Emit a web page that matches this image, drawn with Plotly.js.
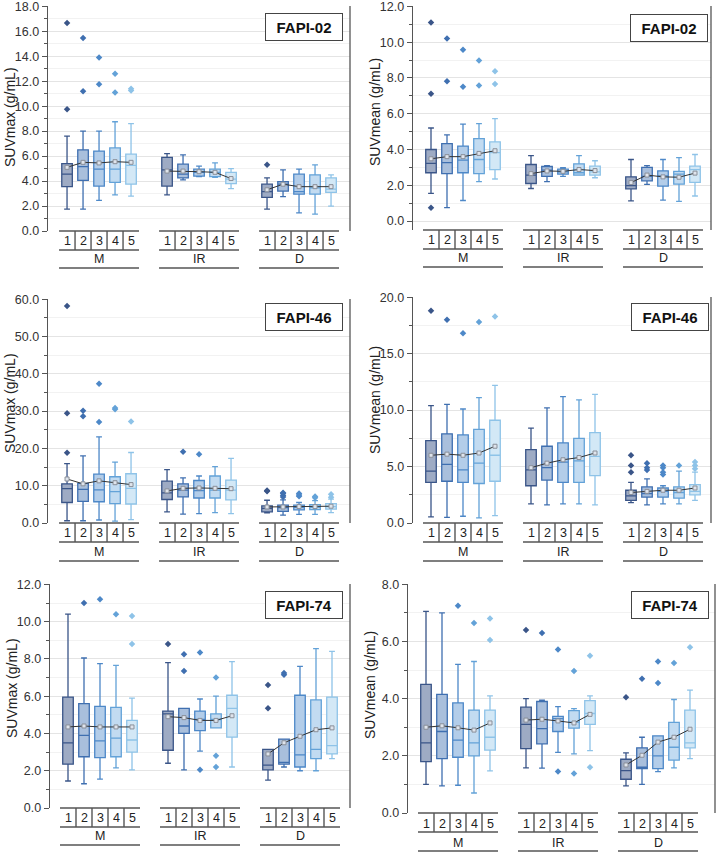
<!DOCTYPE html>
<html>
<head>
<meta charset="utf-8">
<script src="https://cdn.plot.ly/plotly-3.0.1.min.js"></script>
<style>body{margin:0;background:#fff}</style>
</head>
<body>
<div id="chart" style="width:722px;height:857px"></div>
<script>
const W = 722, H = 857;

const groups = ['M', 'IR', 'D'];
const timepoints = ['1', '2', '3', '4', '5'];

// box colours per time point 1..5
const lineColors = ['#3a5588', '#3f6fb0', '#4d88c8', '#63a2d8', '#8ec3e8'];
const fillColors = ['#9eabc4', '#a9bfdc', '#b3cde9', '#c2dbf1', '#d3e8f6'];

// every array below: M1..M5, IR1..IR5, D1..D5

// SUVmax FAPI-02
const max02_lo   = [1.75, 1.75, 2.45, 2.9, 2.8,   2.9, 4.1, 4.35, 4.3, 3.4,   1.75, 2.75, 1.45, 1.35, 2.0];
const max02_q1   = [3.55, 4.05, 3.6, 3.9, 3.75,   3.6, 4.25, 4.4, 4.35, 3.8,  2.7, 3.2, 2.95, 2.95, 3.1];
const max02_med  = [4.55, 5.15, 4.95, 4.95, 5.25, 4.9, 4.55, 4.7, 4.7, 4.15,  3.15, 3.75, 3.15, 3.45, 3.35];
const max02_q3   = [5.4, 6.5, 6.4, 6.65, 6.15,    5.9, 5.35, 4.95, 4.95, 4.7, 3.75, 3.95, 4.55, 4.5, 4.25];
const max02_hi   = [7.6, 8.0, 8.0, 8.75, 8.6,     6.2, 6.1, 5.2, 5.45, 5.0,   4.25, 4.9, 4.95, 5.3, 4.5];
const max02_mean = [5.1, 5.5, 5.45, 5.55, 5.5,    4.8, 4.8, 4.75, 4.7, 4.2,   3.3, 3.75, 3.55, 3.55, 3.55];
const max02_out  = [[16.65, 9.75], [15.45, 11.2], [13.9, 11.75], [12.6, 11.1], [11.4, 11.25],
                    [], [], [], [], [],
                    [5.3], [], [], [], []];

// SUVmean FAPI-02
const mean02_lo   = [1.55, 0.75, 1.15, 2.2, 2.35,  1.82, 2.2, 2.5, 2.57, 2.42,  1.13, 2.05, 1.17, 1.1, 1.4];
const mean02_q1   = [2.7, 2.65, 2.7, 2.65, 2.88,   2.1, 2.5, 2.62, 2.57, 2.57,  1.8, 2.25, 1.95, 2.06, 2.16];
const mean02_med  = [3.22, 3.27, 3.4, 3.44, 3.83,  2.57, 2.85, 2.75, 2.7, 2.75, 1.98, 2.5, 2.53, 2.62, 2.88];
const mean02_q3   = [4.0, 4.33, 4.19, 4.61, 4.43,  3.16, 3.05, 2.9, 3.2, 3.07,  2.47, 3.0, 2.81, 2.78, 3.07];
const mean02_hi   = [5.2, 4.82, 5.42, 5.45, 5.72,  3.66, 3.1, 2.98, 3.66, 3.37, 3.44, 3.1, 3.44, 3.55, 3.72];
const mean02_mean = [3.48, 3.6, 3.6, 3.78, 3.93,   2.65, 2.8, 2.78, 2.88, 2.82, 2.15, 2.57, 2.47, 2.45, 2.68];
const mean02_out  = [[11.1, 7.12, 0.75], [10.2, 7.82], [9.57, 7.5], [8.97, 7.58], [8.37, 7.66],
                     [], [], [], [], [],
                     [], [], [], [], []];

// SUVmax FAPI-46
const max46_lo   = [0.6, 0.6, 0.8, 0.5, 0.9,       3.0, 2.4, 2.5, 2.8, 2.5,     2.7, 2.1, 2.3, 2.3, 2.8];
const max46_q1   = [5.5, 5.8, 5.7, 5.2, 5.1,       6.3, 7.0, 6.7, 6.7, 6.2,     3.0, 3.1, 3.5, 3.6, 3.7];
const max46_med  = [9.2, 9.0, 8.9, 8.4, 9.3,       8.1, 8.8, 8.7, 8.8, 8.8,     3.9, 4.1, 4.2, 4.2, 4.4];
const max46_q3   = [10.5, 10.6, 13.1, 12.4, 13.2,  11.2, 10.5, 11.4, 12.6, 11.5, 4.6, 4.8, 4.8, 4.9, 5.2];
const max46_hi   = [15.9, 18.0, 23.1, 16.3, 18.9,  14.3, 12.1, 12.6, 15.1, 17.3, 6.1, 6.2, 5.5, 6.0, 6.4];
const max46_mean = [11.8, 10.5, 11.3, 10.8, 10.3,  8.6, 9.3, 9.4, 9.3, 9.2,     4.3, 4.3, 4.4, 4.4, 4.5];
const max46_out  = [[58.2, 29.4, 18.8], [30.1, 28.6], [37.3, 27.1], [30.8, 30.5], [27.2],
                    [], [19.1], [18.4], [], [],
                    [8.5, 8.7], [7.0, 7.4, 7.9, 8.1], [7.2, 7.5, 7.9], [6.8, 7.1], [6.9, 7.7]];

// SUVmean FAPI-46
const mean46_lo   = [0.55, 0.5, 0.6, 0.45, 0.65,  1.7, 1.6, 1.7, 1.7, 1.6,   1.8, 1.6, 1.7, 1.7, 2.0];
const mean46_q1   = [3.6, 3.7, 3.6, 3.5, 3.7,      3.3, 3.8, 3.6, 3.6, 4.2,   2.0, 2.3, 2.3, 2.2, 2.5];
const mean46_med  = [4.6, 5.2, 4.7, 5.3, 6.0,      4.7, 4.9, 5.4, 5.5, 5.9,   2.4, 2.6, 2.8, 2.7, 2.8];
const mean46_q3   = [7.3, 7.9, 7.8, 8.3, 9.1,      6.5, 6.8, 7.1, 7.5, 8.0,   2.9, 3.2, 3.1, 3.2, 3.4];
const mean46_hi   = [10.4, 10.5, 10.1, 11.1, 12.2, 8.4, 10.2, 11.2, 10.9, 11.4, 3.6, 3.9, 3.3, 4.6, 4.5];
const mean46_mean = [6.0, 6.1, 6.0, 6.2, 6.8,      4.9, 5.3, 5.6, 5.8, 6.2,   2.7, 2.8, 2.9, 2.9, 3.1];
const mean46_out  = [[18.8], [18.0], [16.8], [17.8], [18.3],
                     [], [], [], [], [],
                     [4.5, 5.1, 6.0], [4.7, 4.9, 5.3], [4.3, 4.5, 4.9, 5.1], [5.1], [4.8, 5.1, 5.4]];

// SUVmax FAPI-74
const max74_lo   = [1.45, 1.3, 1.55, 2.15, 2.05,  2.4, 2.05, 3.05, 4.3, 2.2,   1.5, 2.2, 2.0, 2.0, 2.65];
const max74_q1   = [2.35, 2.75, 2.7, 2.75, 3.0,   3.1, 4.0, 4.15, 4.3, 3.8,    2.05, 2.35, 2.2, 2.65, 2.9];
const max74_med  = [3.5, 3.9, 3.6, 3.75, 3.65,    5.05, 4.4, 4.75, 4.75, 5.35, 2.3, 2.45, 2.85, 3.15, 3.35];
const max74_q3   = [5.95, 5.6, 5.45, 5.4, 4.7,    5.2, 5.35, 5.2, 5.05, 6.05,  3.15, 3.7, 6.05, 5.8, 5.95];
const max74_hi   = [10.4, 8.05, 7.75, 7.65, 5.9,  7.8, 5.35, 5.85, 6.0, 7.85,  3.15, 3.7, 7.6, 8.55, 8.4];
const max74_mean = [4.35, 4.4, 4.35, 4.35, 4.35,  4.9, 4.85, 4.7, 4.7, 4.95,   2.9, 3.5, 3.85, 4.2, 4.3];
const max74_out  = [[], [11.0], [11.2], [10.4], [8.8, 10.3],
                    [8.8], [7.35, 8.25], [2.05, 8.35], [2.2, 2.8, 7.0], [],
                    [5.35, 6.6], [7.15, 7.25], [], [], []];

// SUVmean FAPI-74
const mean74_lo   = [1.0, 0.95, 0.97, 0.7, 1.47,   1.58, 1.57, 2.12, 2.07, 2.18, 0.95, 1.0, 1.45, 1.58, 1.9];
const mean74_q1   = [1.8, 1.9, 1.95, 2.0, 2.2,     2.25, 2.42, 2.85, 2.97, 3.1,  1.18, 1.55, 1.55, 1.85, 2.28];
const mean74_med  = [2.45, 2.85, 2.55, 2.45, 2.65, 3.1, 2.95, 3.3, 3.18, 3.48,  1.48, 1.6, 2.0, 2.3, 2.45];
const mean74_q3   = [4.5, 4.15, 3.85, 3.6, 3.6,    3.7, 3.9, 3.38, 3.58, 3.93,  1.88, 2.28, 2.7, 3.17, 3.6];
const mean74_hi   = [7.05, 7.0, 5.2, 5.3, 4.1,     4.0, 3.95, 3.72, 3.65, 4.1,  2.1, 2.65, 2.7, 3.97, 4.3];
const mean74_mean = [3.0, 3.05, 2.98, 2.9, 3.15,   3.25, 3.28, 3.22, 3.15, 3.45, 1.68, 2.02, 2.48, 2.65, 2.93];
const mean74_out  = [[], [], [7.25], [6.65], [6.05, 6.8],
                     [6.4], [6.3], [1.45, 5.72], [1.38, 4.97], [1.6, 5.5],
                     [4.05], [4.7], [4.55, 5.3], [5.25], [5.8]];

// panel placement in page pixels
const panels = [
  {name: 'FAPI-02', ylab: 'SUVmax (g/mL)', lo: max02_lo, q1: max02_q1, med: max02_med, q3: max02_q3, hi: max02_hi, mean: max02_mean, out: max02_out,
   px: [48, 350], py: [6, 231], yr: [0, 18.02], dt: 2, mdt: 1, x0: -1.19, box: [304, 27.5], table: 231, tg: [10, 19, 28, 37], ly: 117},
  {name: 'FAPI-02', ylab: 'SUVmean (g/mL)', lo: mean02_lo, q1: mean02_q1, med: mean02_med, q3: mean02_q3, hi: mean02_hi, mean: mean02_mean, out: mean02_out,
   px: [413, 711], py: [6, 230], yr: [-0.5, 12.02], dt: 2, mdt: 1, x0: -1.125, box: [669, 28], table: 230, tg: [10, 19, 28, 37], ly: 112},
  {name: 'FAPI-46', ylab: 'SUVmax (g/mL)', lo: max46_lo, q1: max46_q1, med: max46_med, q3: max46_q3, hi: max46_hi, mean: max46_mean, out: max46_out,
   px: [48, 350], py: [299, 523], yr: [0, 60.05], dt: 10, mdt: 5, x0: -1.19, box: [304, 317], table: 523, tg: [10, 19, 29, 38], ly: 403},
  {name: 'FAPI-46', ylab: 'SUVmean (g/mL)', lo: mean46_lo, q1: mean46_q1, med: mean46_med, q3: mean46_q3, hi: mean46_hi, mean: mean46_mean, out: mean46_out,
   px: [413, 711], py: [297, 523], yr: [0, 20.02], dt: 5, mdt: 2.5, x0: -1.125, box: [670, 316.5], table: 523, tg: [10, 19, 29, 38], ly: 400},
  {name: 'FAPI-74', ylab: 'SUVmax (g/mL)', lo: max74_lo, q1: max74_q1, med: max74_med, q3: max74_q3, hi: max74_hi, mean: max74_mean, out: max74_out,
   px: [50, 350], py: [584, 808], yr: [0, 12.02], dt: 2, mdt: 1, x0: -1.125, box: [304, 604.5], table: 808, tg: [10, 19, 28, 37], ly: 688},
  {name: 'FAPI-74', ylab: 'SUVmean (g/mL)', lo: mean74_lo, q1: mean74_q1, med: mean74_med, q3: mean74_q3, hi: mean74_hi, mean: mean74_mean, out: mean74_out,
   px: [408, 715], py: [584, 813], yr: [0, 8.01], dt: 2, mdt: 1, x0: -1.125, box: [670, 604.5], table: 813, tg: [11, 19, 30, 38], ly: 685}
];

function pos(g, i) { return g * 6.25 + i; }
function py2paper(p) { return 1 - p / H; }

let data = [];
let shapes = [];
let annotations = [];
let layout = {
  width: W, height: H,
  margin: {l: 0, r: 0, t: 0, b: 0},
  paper_bgcolor: '#fff', plot_bgcolor: '#fff',
  showlegend: false,
  font: {family: 'Liberation Sans, Arial, sans-serif', color: '#333', size: 12}
};

const tableLine = {color: '#555', width: 1.4};

panels.forEach((p, k) => {
  const s = k === 0 ? '' : String(k + 1);
  const xa = 'x' + s, ya = 'y' + s;

  layout['xaxis' + s] = {
    domain: [p.px[0] / W, p.px[1] / W],
    range: [p.x0, p.x0 + (p.px[1] - p.px[0]) / 16],
    anchor: ya, visible: false, fixedrange: true
  };
  layout['yaxis' + s] = {
    domain: [py2paper(p.py[1]), py2paper(p.py[0])],
    range: p.yr, anchor: xa,
    tickmode: 'linear', tick0: 0, dtick: p.dt, tickformat: '.1f',
    ticklabeloverflow: 'allow',
    ticks: 'outside', ticklen: 5, tickcolor: '#555', tickwidth: 1,
    showline: true, linecolor: '#555', linewidth: 1.3,
    showgrid: true, gridcolor: '#e4e4e4', gridwidth: 1,
    zeroline: false,
    tickfont: {size: 12.5, color: '#333'},
    minor: {dtick: p.mdt, tick0: 0, ticks: 'outside', ticklen: 3, tickcolor: '#555', showgrid: true, gridcolor: '#f2f2f2'}
  };

  // boxes: one trace per time point, three groups each
  timepoints.forEach((t, i) => {
    const idx = [i, 5 + i, 10 + i];
    data.push({
      type: 'box', xaxis: xa, yaxis: ya,
      x: idx.map((_, g) => pos(g, i)),
      q1: idx.map(j => p.q1[j]),
      median: idx.map(j => p.med[j]),
      q3: idx.map(j => p.q3[j]),
      lowerfence: idx.map(j => p.lo[j]),
      upperfence: idx.map(j => p.hi[j]),
      width: 0.66, whiskerwidth: 0.55,
      boxpoints: false,
      fillcolor: fillColors[i],
      line: {color: lineColors[i], width: 1.3},
      hoverinfo: 'skip'
    });
    // outliers
    let ox = [], oy = [];
    idx.forEach((j, g) => p.out[j].forEach(v => { ox.push(pos(g, i)); oy.push(v); }));
    if (ox.length) {
      data.push({
        type: 'scatter', mode: 'markers', xaxis: xa, yaxis: ya,
        x: ox, y: oy,
        marker: {symbol: 'diamond', size: 5, color: lineColors[i]},
        hoverinfo: 'skip'
      });
    }
  });

  // mean lines per group
  groups.forEach((gname, g) => {
    data.push({
      type: 'scatter', mode: 'lines+markers', xaxis: xa, yaxis: ya,
      x: timepoints.map((_, i) => pos(g, i)),
      y: timepoints.map((_, i) => p.mean[g * 5 + i]),
      line: {color: '#333', width: 1},
      marker: {symbol: 'square', size: 4, color: '#dfe4ec', line: {color: '#8a8f99', width: 1}},
      hoverinfo: 'skip'
    });
  });

  // right frame line
  shapes.push({type: 'line', xref: xa + ' domain', yref: ya + ' domain', x0: 1, x1: 1, y0: 0, y1: 1, line: {color: '#555', width: 1.3}});

  // category table under each group
  const t0 = p.table;
  groups.forEach((gname, g) => {
    const xl = pos(g, 0) - 0.5, xr = pos(g, 4) + 0.5;
    [t0, t0 + p.tg[1], t0 + p.tg[3]].forEach(yy => {
      shapes.push({type: 'line', xref: xa, yref: 'paper', x0: xl, x1: xr, y0: py2paper(yy), y1: py2paper(yy), line: tableLine});
    });
    for (let i = 0; i < 4; i++) {
      shapes.push({type: 'line', xref: xa, yref: 'paper', x0: pos(g, i) + 0.5, x1: pos(g, i) + 0.5,
        y0: py2paper(t0), y1: py2paper(t0 + p.tg[1]), line: tableLine});
    }
    timepoints.forEach((t, i) => {
      annotations.push({xref: xa, yref: 'paper', x: pos(g, i), y: py2paper(t0 + p.tg[0]), text: t,
        showarrow: false, xanchor: 'center', yanchor: 'middle', font: {size: 12.5, color: '#222'}});
    });
    annotations.push({xref: xa, yref: 'paper', x: pos(g, 2), y: py2paper(t0 + p.tg[2]), text: gname,
      showarrow: false, xanchor: 'center', yanchor: 'middle', font: {size: 12.5, color: '#222'}});
  });

  // tracer label box
  annotations.push({xref: 'paper', yref: 'paper', x: p.box[0] / W, y: py2paper(p.box[1]),
    text: '<b>' + p.name + '</b>', showarrow: false, xanchor: 'center', yanchor: 'middle',
    width: 74, height: 24, borderpad: 1, bordercolor: '#444', borderwidth: 1, bgcolor: '#fff',
    font: {size: 15, color: '#111'}});

  // y-axis title
  annotations.push({xref: 'paper', yref: 'paper', x: (p.px[0] - 38) / W, y: py2paper(p.ly),
    text: p.ylab, textangle: -90, showarrow: false, xanchor: 'center', yanchor: 'middle',
    font: {size: 14, color: '#222'}});
});

layout.shapes = shapes;
layout.annotations = annotations;

Plotly.newPlot('chart', data, layout, {staticPlot: true});
</script>
</body>
</html>
